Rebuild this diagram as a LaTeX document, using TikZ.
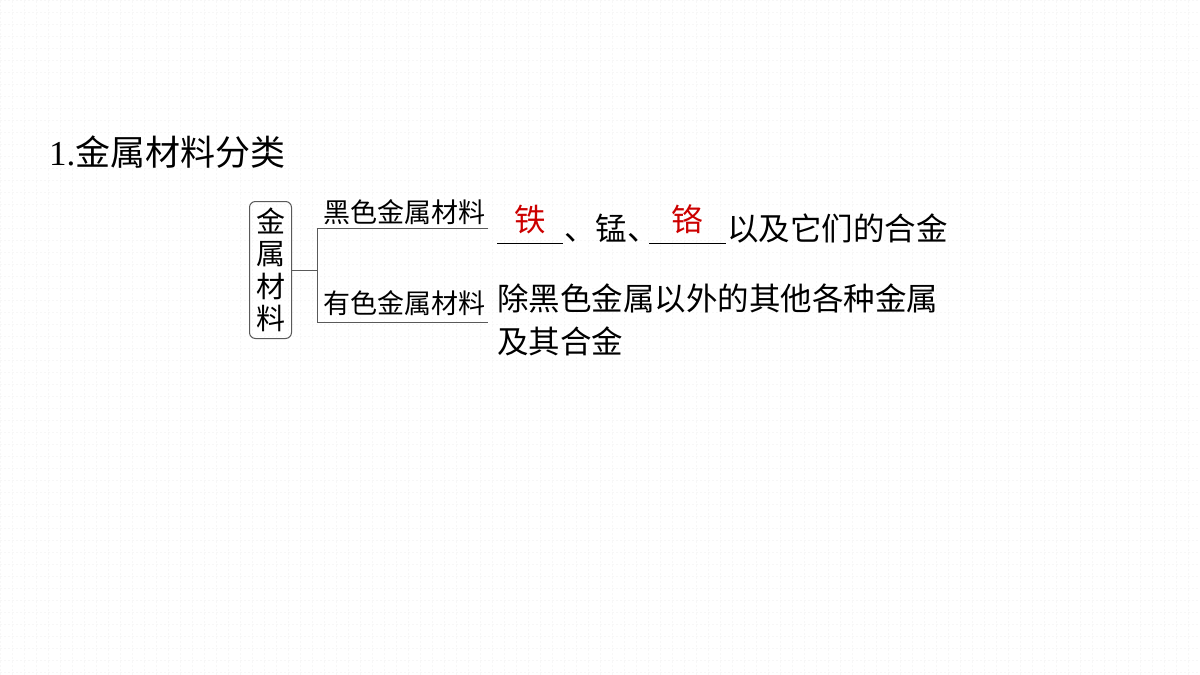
\documentclass[tikz,border=0pt]{standalone}
\usepackage{fontspec}
\setmainfont{Liberation Serif}
\newfontfamily\cjk{Noto Sans CJK SC}
\usetikzlibrary{positioning}

\definecolor{ansred}{HTML}{CC0000}
\tikzset{
  txt/.style={inner sep=0pt, outer sep=0pt, font=\cjk\fontsize{31.5}{34}\selectfont},
  lbl/.style={inner sep=0pt, outer sep=0pt, font=\cjk\fontsize{27}{30}\selectfont},
  ans/.style={txt, text=ansred, minimum width=#1, text depth=0pt},
  brace/.style={draw=black!65, line width=1pt},
}

\begin{document}
\begin{tikzpicture}[x=1pt,y=-1pt]
\useasboundingbox (0,0) rectangle (1200,675);
% faint background grid
\draw[black!3, dash pattern=on 2pt off 2pt] (0,0) grid[step=12pt] (1200,675);

\node[inner sep=0pt, anchor=base west, font=\fontsize{35}{38}\selectfont] (title)
  at (49,165) {1.{\cjk 金属材料分类}};

% main box
\node[draw=black!65, line width=1pt, rounded corners=6pt, minimum width=42pt,
  minimum height=137pt, inner sep=0pt, align=center,
  font=\cjk\fontsize{29}{32.5}\selectfont] (metal) at (270.5,270) {金\\属\\材\\料};

\coordinate (fork) at (317,270);
\coordinate (upL) at (317,228);
\coordinate (upR) at (488,228);
\coordinate (dnL) at (317,322);
\coordinate (dnR) at (488,322);

\draw[brace] (metal.east) -- (fork);
\draw[brace] (upR) -- (upL) -- (dnL) -- (dnR);

\node[lbl, anchor=base] (ferrous) at (404,222) {黑色金属材料};
\node[lbl, anchor=base] (nonferrous) at (404,313) {有色金属材料};

% first row
\node[ans=66pt, anchor=base west] (fe) at (497,231) {铁};
\node[txt, anchor=base west] (mn) at (564,240) {、锰、};
\node[ans=77pt, anchor=base west] (cr) at (649,231) {铬};
\node[txt, anchor=base west] (alloy) at (727,240) {以及它们的合金};
\draw[line width=1pt] (497,243) -- (563,243);
\draw[line width=1pt] (649,243) -- (726,243);

% second row
\node[txt, anchor=base west] (other) at (497,310) {除黑色金属以外的其他各种金属};
\node[txt, anchor=base west] (other2) at (497,353) {及其合金};
\end{tikzpicture}
\end{document}
